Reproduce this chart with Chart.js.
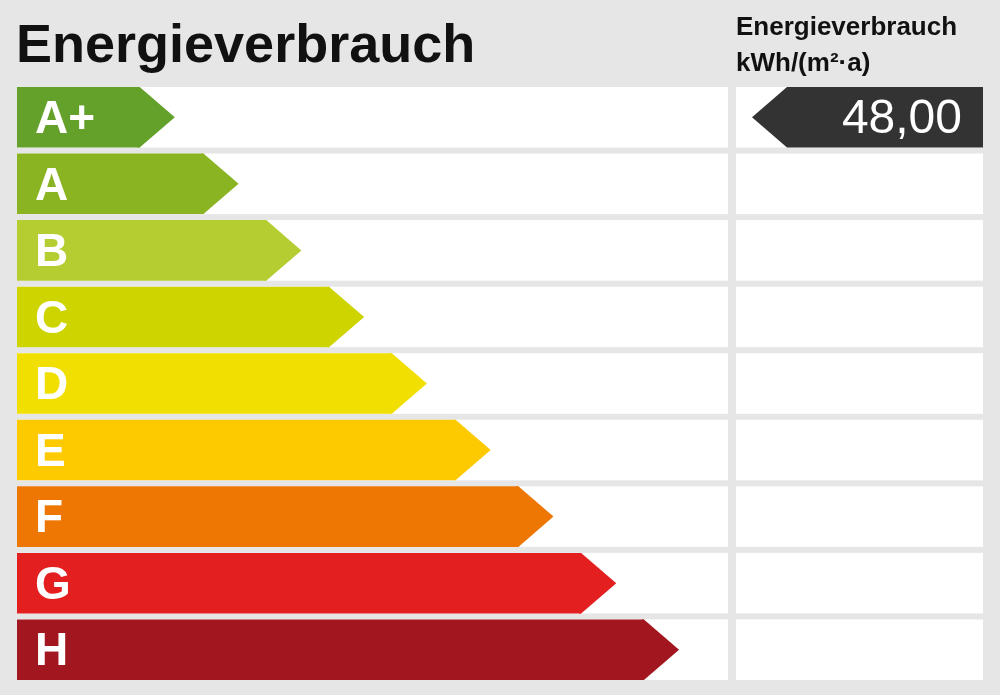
<!DOCTYPE html>
<html>
<head>
<meta charset="utf-8">
<script src="https://cdn.jsdelivr.net/npm/chart.js@4"></script>
<style>
  body { margin: 0; background: #e6e6e6; font-family: "Liberation Sans", Arial, sans-serif; }
  #wrap { position: relative; width: 1000px; height: 695px; }
  #title { position: absolute; left: 16px; top: 12px; font-size: 54px; font-weight: bold; color: #111; }
  #unit { position: absolute; left: 736px; top: 8px; font-size: 26px; font-weight: bold; color: #111; line-height: 36px; }
  canvas { position: absolute; left: 0; top: 0; }
</style>
</head>
<body>
<div id="wrap">
  <canvas id="chart" width="1000" height="695"></canvas>
  <div id="title">Energieverbrauch</div>
  <div id="unit">Energieverbrauch<br>kWh/(m²·a)</div>
</div>
<script>
// Energy classes
const classes = ['A+', 'A', 'B', 'C', 'D', 'E', 'F', 'G', 'H'];
const arrowLengths = [12.7, 19.3, 25.8, 32.3, 38.8, 45.4, 51.9, 58.4, 64.9];
const classColors = ['#63a12a', '#8ab422', '#b5cd31', '#cdd400', '#f0df00', '#fdca00', '#ee7703', '#e3201f', '#a2171f'];
const consumption = 48.00;
const consumptionClass = 'A+';

const labelPlugin = {
    id: 'energyLabel',
    beforeDatasetsDraw(chart) {
        const ctx = chart.ctx;
        const meta = chart.getDatasetMeta(0);
        ctx.save();
        ctx.fillStyle = '#ffffff';
        meta.data.forEach(bar => {
            const h = bar.height;
            ctx.fillRect(17, bar.y - h / 2, 711, h);
            ctx.fillRect(736, bar.y - h / 2, 247, h);
        });
        ctx.restore();
    },
    afterDatasetsDraw(chart) {
        const ctx = chart.ctx;
        const meta = chart.getDatasetMeta(0);
        ctx.save();
        meta.data.forEach((bar, i) => {
            const h = bar.height;
            const top = bar.y - h / 2;
            // arrow tip
            ctx.fillStyle = classColors[i];
            ctx.beginPath();
            ctx.moveTo(bar.x - 2, top);
            ctx.lineTo(bar.x, top);
            ctx.lineTo(bar.x + h * 0.58, bar.y);
            ctx.lineTo(bar.x, top + h);
            ctx.lineTo(bar.x - 2, top + h);
            ctx.closePath();
            ctx.fill();
            // class letter
            ctx.fillStyle = '#ffffff';
            ctx.font = 'bold 46px "Liberation Sans", Arial, sans-serif';
            ctx.textBaseline = 'middle';
            ctx.textAlign = 'left';
            ctx.fillText(classes[i], 35, bar.y + 3);
        });
        // consumption marker
        const idx = classes.indexOf(consumptionClass);
        const bar = meta.data[idx];
        const h = bar.height;
        const top = bar.y - h / 2;
        ctx.fillStyle = '#333333';
        ctx.beginPath();
        ctx.moveTo(752, bar.y);
        ctx.lineTo(787, top);
        ctx.lineTo(983, top);
        ctx.lineTo(983, top + h);
        ctx.lineTo(787, top + h);
        ctx.closePath();
        ctx.fill();
        ctx.fillStyle = '#ffffff';
        ctx.font = '48px "Liberation Sans", Arial, sans-serif';
        ctx.textAlign = 'right';
        ctx.fillText(consumption.toFixed(2).replace('.', ','), 962, bar.y + 2);
        ctx.restore();
    }
};

new Chart(document.getElementById('chart'), {
    type: 'bar',
    data: {
        labels: classes,
        datasets: [{
            data: arrowLengths,
            backgroundColor: classColors,
            borderWidth: 0,
            barPercentage: 0.91,
            categoryPercentage: 1
        }]
    },
    options: {
        indexAxis: 'y',
        responsive: false,
        animation: false,
        layout: { padding: { top: 84, bottom: 12, left: 17, right: 17 } },
        plugins: { legend: { display: false }, tooltip: { enabled: false } },
        scales: {
            x: { min: 0, max: 100, display: false },
            y: { display: false }
        }
    },
    plugins: [labelPlugin]
});
</script>
</body>
</html>
